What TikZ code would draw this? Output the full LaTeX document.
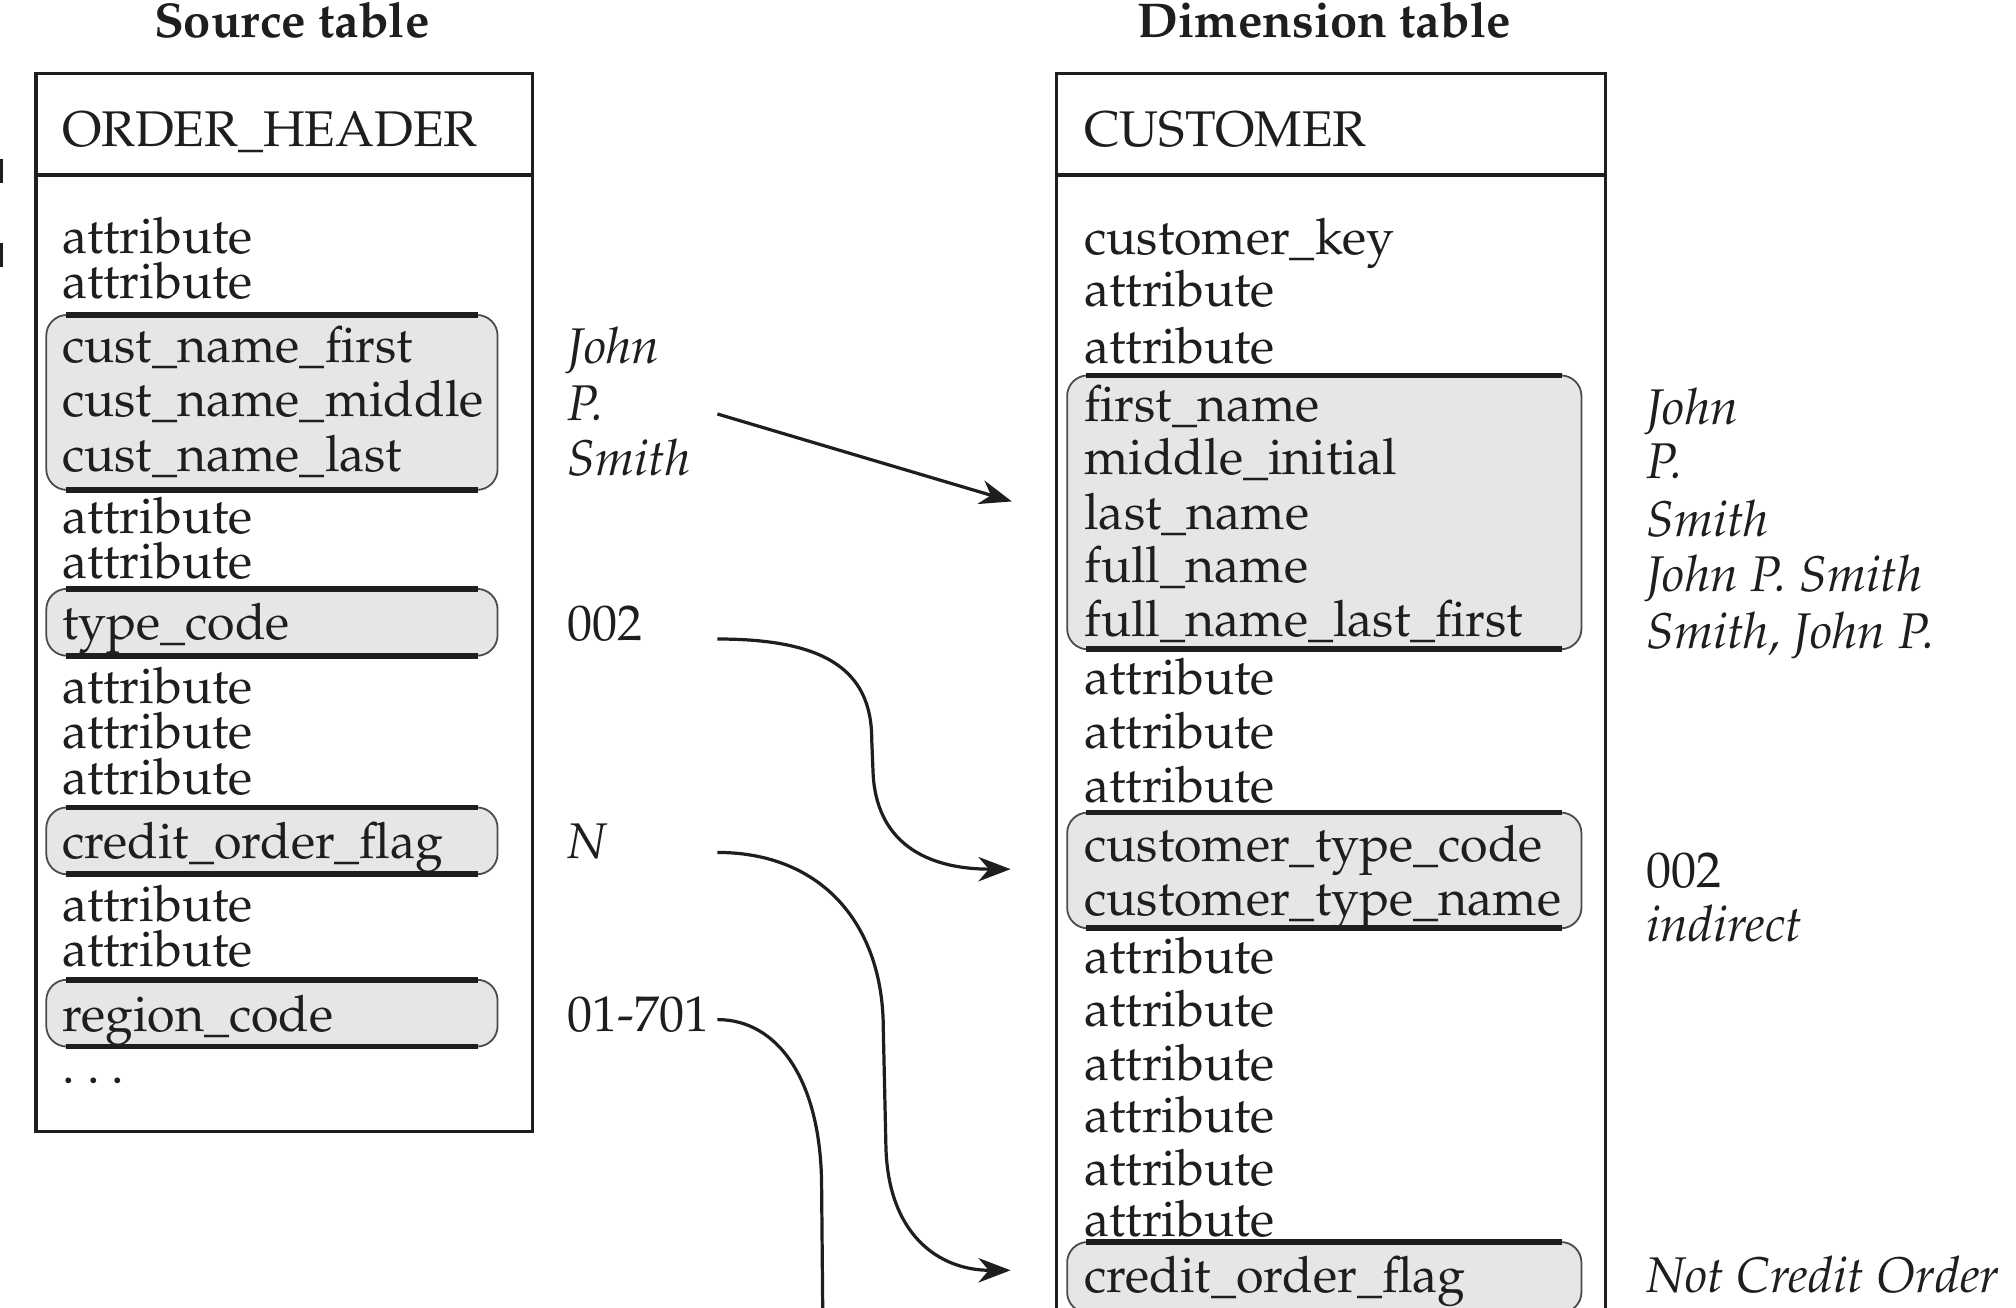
\documentclass[tikz,border=0pt]{standalone}
\usepackage[T1]{fontenc}
\usepackage{mathpazo}
\usetikzlibrary{arrows.meta}
\definecolor{hlgray}{HTML}{E6E6E6}
\definecolor{ink}{HTML}{1E1E1E}
\newcommand{\tfontx}{\fontsize{19.5}{23}\selectfont}
\newcommand{\hfontx}{\fontsize{19}{22}\selectfont\bfseries}
\newcommand{\hlbox}[4]{%
  \draw[fill=hlgray,draw=ink!80,line width=0.7pt,rounded corners=8pt] (#1,#2) rectangle (#3,#4);
  \draw[line width=2.2pt,ink] ({#1+15},#2) -- ({#3-15},#2);
  \draw[line width=2.2pt,ink] ({#1+15},#4) -- ({#3-15},#4);}
\begin{document}
\begin{tikzpicture}[x=0.5pt,y=-0.5pt,
  txt/.style={anchor=base west,inner sep=0pt,font=\tfontx,text=ink},
  val/.style={anchor=base west,inner sep=0pt,font=\tfontx\itshape,text=ink},
  ttl/.style={anchor=base,inner sep=0pt,font=\hfontx,text=ink},
  tbl/.style={draw=ink,line width=1.2pt},
  sepline/.style={draw=ink,line width=1.7pt},
  conn/.style={draw=ink,line width=1.25pt,-{Stealth[length=12.5pt,width=9.5pt,inset=4pt]}},
  plainconn/.style={draw=ink,line width=1.25pt}]
\useasboundingbox (0,0) rectangle (1568,1017);

% left-edge fragment
\fill[ink] (0,124) rectangle (2.5,142);
\fill[ink] (0,189) rectangle (2.5,208);

% ---------- Source table ----------
\node[ttl] (srctitle) at (227,29) {Source table};
\draw[tbl] (28,57) rectangle (414,880);
\draw[sepline] (28,136) -- (414,136);
\node[txt] (oh) at (48,114) {ORDER\_HEADER};

\hlbox{36}{245}{387}{381}
\hlbox{36}{458}{387}{510}
\hlbox{36}{628}{387}{680}
\hlbox{36}{762}{387}{814}

\node[txt] (l1) at (48,197) {attribute};
\node[txt] (l2) at (48,232) {attribute};
\node[txt] (l3) at (48,282) {cust\_name\_first};
\node[txt] (l4) at (48,324) {cust\_name\_middle};
\node[txt] (l5) at (48,367) {cust\_name\_last};
\node[txt] (l6) at (48,415) {attribute};
\node[txt] (l7) at (48,450) {attribute};
\node[txt] (l8) at (48,497) {type\_code};
\node[txt] (l9) at (48,547) {attribute};
\node[txt] (l10) at (48,582) {attribute};
\node[txt] (l11) at (48,618) {attribute};
\node[txt] (l12) at (48,668) {credit\_order\_flag};
\node[txt] (l13) at (48,717) {attribute};
\node[txt] (l14) at (48,752) {attribute};
\node[txt] (l15) at (48,802) {region\_code};
\node[txt] (l16) at (48,843) {.\kern4.8pt.\kern4.8pt.};

% source values
\node[val] (v1) at (441,283) {John};
\node[val] (v2) at (441,327) {P.};
\node[val] (v3) at (441,370) {Smith};
\node[txt] (v4) at (441,498) {002};
\node[val] (v5) at (441,668) {N};
\node[txt] (v6) at (441,802) {01-701};

% ---------- Dimension table ----------
\node[ttl] (dimtitle) at (1030,29) {Dimension table};
\draw[tbl] (822,1040) -- (822,57) -- (1249,57) -- (1249,1040);
\draw[sepline] (822,136) -- (1249,136);
\node[txt] (cu) at (843,114) {CUSTOMER};

\hlbox{830}{292}{1230}{505}
\hlbox{830}{632}{1230}{722}
\hlbox{830}{966}{1230}{1021}

\node[txt] (r1) at (843,198) {customer\_key};
\node[txt] (r2) at (843,238) {attribute};
\node[txt] (r3) at (843,283) {attribute};
\node[txt] (r4) at (843,328) {first\_name};
\node[txt] (r5) at (843,369) {middle\_initial};
\node[txt] (r6) at (843,412) {last\_name};
\node[txt] (r7) at (843,453) {full\_name};
\node[txt] (r8) at (843,495) {full\_name\_last\_first};
\node[txt] (r9) at (843,540) {attribute};
\node[txt] (r10) at (843,582) {attribute};
\node[txt] (r11) at (843,624) {attribute};
\node[txt] (r12) at (843,670) {customer\_type\_code};
\node[txt] (r13) at (843,712) {customer\_type\_name};
\node[txt] (r14) at (843,757) {attribute};
\node[txt] (r15) at (843,798) {attribute};
\node[txt] (r16) at (843,840) {attribute};
\node[txt] (r17) at (843,881) {attribute};
\node[txt] (r18) at (843,922) {attribute};
\node[txt] (r19) at (843,962) {attribute};
\draw[line width=2.2pt,ink] (845,966) -- (1215,966);
\node[txt] (r20) at (843,1005) {credit\_order\_flag};

% dimension values
\node[val] (w1) at (1280,330) {John};
\node[val] (w2) at (1280,372) {P.};
\node[val] (w3) at (1280,417) {Smith};
\node[val] (w4) at (1280,460) {John P. Smith};
\node[val] (w5) at (1280,504) {Smith, John P.};
\node[txt] (w6) at (1280,690) {002};
\node[val] (w7) at (1280,732) {indirect};
\node[val] (w8) at (1280,1005) {Not Credit Order};

% ---------- connectors ----------
\coordinate (a1s) at (558,322);
\coordinate (a1e) at (787,390);
\coordinate (a2s) at (558,497);
\coordinate (a2e) at (786,676);
\coordinate (a3s) at (558,663);
\coordinate (a3e) at (786,988);
\coordinate (a4s) at (558,793);
\coordinate (a4e) at (640,1030);

\draw[conn] (a1s) -- (a1e);
\draw[conn] (a2s) .. controls (640,497) and (678,520) .. (678,575)
  -- (679,600) .. controls (681,655) and (720,676) .. (a2e);
\draw[conn] (a3s) .. controls (640,663) and (687,720) .. (687,800)
  -- (689,890) .. controls (690,960) and (730,988) .. (a3e);
\draw[plainconn] (a4s) .. controls (605,793) and (638,840) .. (639,920) -- (a4e);
\end{tikzpicture}
\end{document}
